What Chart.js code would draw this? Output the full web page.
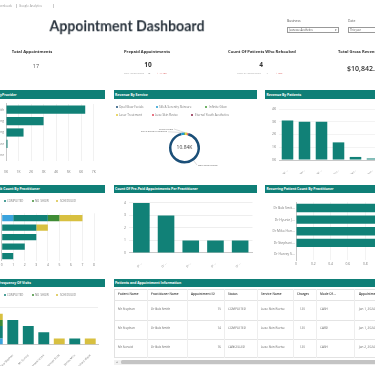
<!DOCTYPE html>
<html><head><meta charset="utf-8">
<script src="https://cdn.jsdelivr.net/npm/chart.js@4.4.1/dist/chart.umd.min.js"></script>
<style>
html,body{margin:0;padding:0;width:375px;height:366px;overflow:hidden;background:#fff;font-family:'Open Sans','Noto Sans',sans-serif;position:relative;}
.t{position:absolute;white-space:nowrap;line-height:1;color:#444;will-change:transform;}
.hdr{position:absolute;height:8.5px;background:#0f7f77;color:#fff;font-weight:700;font-size:3.4px;overflow:hidden;}
.hdr span{position:absolute;top:50%;transform:translateY(-50%);white-space:nowrap;line-height:1;}
.box{position:absolute;}
canvas{position:absolute;}
</style></head><body>
<script>
// ---------- DATA ----------
const providerNames = ["Dr Bob Smith","Dr Hyunie Jung","Dr Miko Hong","Dr Stephanie Lee","Dr Harvey Stone"];
const providerRevenue = [6322, 3000, 1400, 120, 0];
const providerTicks = [0,1000,2000,3000,4000,5000,6000,7000];

const services = ["Opal Glow Facials","Silk & Serenity Skincare","Infinite Glow","Laser Treatment","Luxe Skin Revive","Eternal Youth Aesthetics"];
const serviceRevenue = [10002, 360, 120, 240, 120, 0];
const serviceColors = ["#1b4f78","#1f9bd1","#3f9a35","#e2cb3c","#e0475b","#8a1f45"];

const patientsRev = ["Mr Stephan","Mary Stephan","Mr Sonoid","Annabelle Lee","Hannah Scott","James Mills"];
const patientRevenue = [3100, 3000, 3000, 1382, 240, 120];

const practitioners = ["Dr Bob Smith","Dr Hyunie Jung","Dr Miko Hong","Dr Stephanie Lee","Dr Harvey Stone"];
const statuses = ["CANCELLED","COMPLETED","NO_SHOW","SCHEDULED"];
const statusColors = ["#3aa3dd","#118177","#3f8c35","#d8c040"];
const cancelledByPract = [1,0,0,0,0];
const completedByPract = [3,3,3,2,1];
const noShowByPract    = [1,0,0,0,0];
const scheduledByPract = [2,1,0,0,0];

const prepaidByPract = [4,3,1,1,1];
const recurringByPract = [1,1,1,1,0];

const visitPatients = ["Mr Stephan","Mary Stephan","Mr Sonoid","Annabelle Lee","Hannah Scott","James Mills","Richard Wade"];
const cancelledVisits = [1,0,0,0,0,0,0];
const completedVisits = [2,4,3,2,0,1,0];
const noShowVisits    = [1,0,0,0,0,0,0];
const scheduledVisits = [1,0,0,0,1,0,1];

const tableCols = ["Patient Name","Practitioner Name","Appointment ID","Status","Service Name","Charges","Mode Of ...","Appointment Date"];
const tablePatients = ["Mr Stephan","Mr Stephan","Mr Sonoid"];
const tablePractitioners = ["Dr Bob Smith","Dr Bob Smith","Dr Bob Smith"];
const tableIds = [75,74,76];
const tableStatus = ["COMPLETED","COMPLETED","CANCELLED"];
const tableService = ["Luxe Skin Revive","Luxe Skin Revive","Luxe Skin Revive"];
const tableCharges = [120,120,120];
const tableMode = ["CASH","CARD","CASH"];
const tableDate = ["Jan 1, 2024","Jan 1, 2024","Jan 2, 2024"];

// ---------- HELPERS ----------
const TEAL = "#118177";
function T(txt,x,y,size,o={}){
  const d=document.createElement('div');d.className='t';d.textContent=txt;
  const a=o.a||'l';
  d.style.left=x+'px';d.style.top=y+'px';d.style.fontSize=size+'px';
  d.style.transform=`translate(${a==='l'?0:a==='c'?-50:-100}%,-50%)`;
  if(o.c)d.style.color=o.c; if(o.w)d.style.fontWeight=o.w; if(o.f)d.style.fontFamily=o.f;
  document.body.appendChild(d);return d;
}
function B(x,y,w,h,css){const d=document.createElement('div');d.className='box';
  d.style.left=x+'px';d.style.top=y+'px';d.style.width=w+'px';d.style.height=h+'px';
  Object.assign(d.style,css||{});document.body.appendChild(d);return d;}
function H(x,y,w,hidden,visible,tx){
  const d=B(x,y,w,8.5);d.className='hdr';
  if(hidden){const s=document.createElement('span');s.textContent=hidden;s.style.right=(w-tx)+'px';d.appendChild(s);}
  const v=document.createElement('span');v.textContent=visible;v.style.left=tx+'px';d.appendChild(v);
}
function mk(x,y,w,h){const c=document.createElement('canvas');c.width=w;c.height=h;
  c.style.left=x+'px';c.style.top=y+'px';c.style.width=w+'px';c.style.height=h+'px';
  document.body.appendChild(c);return c;}
function legend(items,colors,xs,y,size){
  items.forEach((s,i)=>{
    B(xs[i]-1.1,y-1.1,2.2,2.2,{background:colors[i],borderRadius:'50%'});
    T(s,xs[i]+2.2,y,size,{c:'#777'});
  });
}

// ---------- STATIC TEXT ----------
T("Downloads",12,5.7,3,{a:'r',c:'#999'});
B(15.5,3.5,0.4,4.5,{background:'#ccc'});
T("Google Analytics",19,5.7,3,{c:'#999'});
B(52.5,3.5,0.4,4.5,{background:'#ccc'});

const title=T("Appointment Dashboard",127,26,15.5,{a:'c',w:'700',c:'#28323c',f:"Lato,'Open Sans',sans-serif"});
{const w=title.getBoundingClientRect().width; title.style.transform=`translate(-50%,-50%) scaleX(${155/w})`;}

T("Business",287,21,3.3,{c:'#555'});
B(287,27.3,52,5.4,{border:'0.5px solid #999',boxSizing:'border-box'});
T("Jeunesse Aesthetics",289,30,2.6,{c:'#555'});
T("▾",336,30,3,{c:'#555',a:'c'});
T("Date",348,21,3.3,{c:'#555'});
B(348,27.3,32,5.4,{border:'0.5px solid #999',boxSizing:'border-box'});
T("This year",350,30,2.6,{c:'#555'});

T("Total Appointments",31.6,52.3,4.1,{a:'c',w:'700',c:'#333'});
T("17",36,67,5.5,{a:'c',c:'#555'});
T("Prepaid Appointments",147,52.3,4.1,{a:'c',w:'700',c:'#333'});
T("10",148,65,6.5,{a:'c',w:'700',c:'#333'});
T("Total Appointments",124,74,2.2,{c:'#aaa'});
T("17",149,74,2.2,{a:'c',c:'#555'});
T("↓ -41.18%",157,74,2.2,{c:'#d64545'});
T("Count Of Patients Who Rebooked",261.5,52.3,4.1,{a:'c',w:'700',c:'#333'});
T("4",261,65,6.5,{a:'c',w:'700',c:'#333'});
T("Count of Appointments",237,74,2.2,{c:'#aaa'});
T("4",267,74,2.2,{a:'c',c:'#555'});
T("↓ -76%",276,74,2.2,{c:'#d64545'});
T("Total Gross Revenue",338,52.3,4.1,{w:'700',c:'#333'});
T("$10,842.00",347,68,7,{w:'600',c:'#333'});

// headers
H(0,90.3,105,"Revenue By ","Provider",2);
H(113.7,90.3,143.3,"","Revenue By Service",1.3);
H(265,90.3,115,"","Revenue By Patients",1.5);
H(0,184.5,105,"Appointment Boo","k Count By Practitioner",0.3);
H(113.7,184.5,143.3,"","Count Of Pre-Paid Appointments Per Practitioner",1.3);
H(265,184.5,115,"","Recurring Patient Count By Practitioner",1.5);
H(0,278.5,105,"Patient F","requency Of Visits",0.3);
H(113.7,278.5,265,"","Patients and Appointment Information",1.3);

// doughnut legend
legend(services.slice(0,3),serviceColors.slice(0,3),[116.7,156.7,206.3],107,3);
legend(services.slice(3),serviceColors.slice(3),[116.7,153,192.3],115,3);
// status legends
legend(statuses,statusColors,[-23,4.7,32.7,57.3],201,2.8);
legend(statuses,statusColors,[-23,4.7,32.7,57.3],294.7,2.8);

// ---------- TABLE ----------
const colX=[114,146.7,186.7,224,256.7,292.7,316,354.3,400];
const rowY=[289,300.3,319.7,339,358];
B(114,289,270,69,{border:'0.5px solid #e2e2e2',boxSizing:'border-box'});
rowY.slice(1,4).forEach(y=>B(114,y,270,0.5,{background:'#e4e4e4'}));
colX.slice(1,8).forEach(x=>B(x,289,0.5,69,{background:'#eeeeee'}));
tableCols.forEach((c,i)=>T(c,colX[i]+4.3,295.3,3.1,{c:'#333',w:'600'}));
const rowC=[309.6,329,348.3];
for(let r=0;r<3;r++){
  const y=rowC[r], o={c:'#666'};
  T(tablePatients[r],colX[0]+4.3,y,3.1,o);
  T(tablePractitioners[r],colX[1]+4.3,y,3.1,o);
  T(String(tableIds[r]),221,y,3.1,{c:'#666',a:'r'});
  T(tableStatus[r],colX[3]+4.3,y,3.1,o);
  T(tableService[r],colX[4]+4.3,y,3.1,o);
  T(String(tableCharges[r]),305,y,3.1,{c:'#666',a:'r'});
  T(tableMode[r],colX[6]+4.3,y,3.1,o);
  T(tableDate[r],colX[7]+4.3,y,3.1,o);
}
B(114,359.5,270,5,{background:'#f1f1f1'});
B(121,360.3,260,3.4,{background:'#c4c4c4',borderRadius:'1.5px'});
T("◂",116.5,362,3,{a:'c',c:'#888'});

// ---------- CHARTS ----------
Chart.defaults.font.family="'Open Sans','Noto Sans',sans-serif";
Chart.defaults.font.size=3.3;
Chart.defaults.color='#777';
Chart.defaults.animation=false;
Chart.defaults.responsive=false;
Chart.defaults.maintainAspectRatio=false;
Chart.defaults.plugins.legend.display=false;
Chart.defaults.plugins.tooltip.enabled=false;
const short=(s,n)=>s.length>n? s.slice(0,n)+'...' : s;
const kfmt=v=>(v/1000)+'K';

// A: provider
new Chart(mk(-40,100,145,78),{type:'bar',
  data:{labels:providerNames,datasets:[{data:providerRevenue,backgroundColor:TEAL,categoryPercentage:0.8,barPercentage:0.9}]},
  options:{indexAxis:'y',layout:{padding:{top:2,right:5,left:0,bottom:0}},
    scales:{
      x:{min:0,max:7500,afterBuildTicks:s=>{s.ticks=providerTicks.map(v=>({value:v}));},
         ticks:{autoSkip:false,callback:kfmt,padding:9,maxRotation:0},grid:{color:'#f1f1f1',drawTicks:false},border:{display:false},afterFit:s=>{s.height=17;}},
      y:{ticks:{padding:2,color:'#888',autoSkip:false},grid:{display:false,drawTicks:false},border:{color:'#c8c8c8'},afterFit:s=>{s.width=46;}}
    }}});

// B: doughnut
const donutLabels={id:'donutLabels',afterDraw(chart){
  const ctx=chart.ctx, meta=chart.getDatasetMeta(0), a0=meta.data[0];
  const cx=a0.x, cy=a0.y, R=a0.outerRadius;
  const total=serviceRevenue.reduce((p,c)=>p+c,0);
  ctx.save();
  ctx.fillStyle='#444';ctx.font="5px 'Open Sans'";ctx.textAlign='center';ctx.textBaseline='middle';
  ctx.fillText((total/1000).toFixed(2)+'K',cx,cy);
  const place=[
    {i:2,tx:cx-11.5,ty:cy-19,al:'right'},
    {i:1,tx:cx-17.5,ty:cy-16.3,al:'right'},
    {i:0,tx:cx+13.5,ty:cy+17,al:'left',ang:Math.PI*0.3}
  ];
  ctx.font="2.4px 'Open Sans'";ctx.fillStyle='#666';ctx.strokeStyle='#aaa';ctx.lineWidth=0.4;
  place.forEach(p=>{
    const el=meta.data[p.i];
    const m=p.ang!==undefined?p.ang:(el.startAngle+el.endAngle)/2;
    const ax=cx+R*Math.cos(m), ay=cy+R*Math.sin(m);
    const ex=p.al==='right'?p.tx+1:p.tx-1;
    ctx.beginPath();ctx.moveTo(ax,ay);ctx.lineTo(ex,p.ty);ctx.stroke();
    ctx.textAlign=p.al;ctx.fillText(services[p.i],p.tx,p.ty);
  });
  ctx.restore();
}};
new Chart(mk(114,118,143,58),{type:'doughnut',
  data:{labels:services,datasets:[{data:serviceRevenue,backgroundColor:serviceColors,borderWidth:0}]},
  options:{cutout:'84%',rotation:15,layout:{padding:{left:55,right:57,top:14.5,bottom:12.5}}},
  plugins:[donutLabels]});

// C: revenue by patients
new Chart(mk(260,104,125,70),{type:'bar',
  data:{labels:patientsRev,datasets:[{data:patientRevenue,backgroundColor:TEAL,categoryPercentage:0.8,barPercentage:0.85}]},
  options:{layout:{padding:{top:5,right:4}},
    scales:{
      x:{ticks:{maxRotation:45,minRotation:45,autoSkip:false,font:{size:2.6},padding:1,callback(v){return short(this.getLabelForValue(v),3);}},grid:{display:false},border:{color:'#c8c8c8'},afterFit:s=>{s.height=14;}},
      y:{min:0,max:4000,ticks:{stepSize:1000,autoSkip:false,callback:kfmt,padding:3},grid:{color:'#f3f3f3',drawTicks:false},border:{display:false},afterFit:s=>{s.width=19;}}
    }}});

// D: stacked horizontal by practitioner
new Chart(mk(-44,209,146,60),{type:'bar',
  data:{labels:practitioners,datasets:[cancelledByPract,completedByPract,noShowByPract,scheduledByPract].map((d,i)=>({label:statuses[i],data:d,backgroundColor:statusColors[i],categoryPercentage:0.8,barPercentage:0.83}))},
  options:{indexAxis:'y',layout:{padding:{top:4.3,right:8}},
    scales:{
      x:{stacked:true,min:0,max:8,ticks:{stepSize:1,autoSkip:false,padding:2,maxRotation:0},grid:{color:'#f1f1f1',drawTicks:false},border:{display:false},afterFit:s=>{s.height=8.2;}},
      y:{stacked:true,ticks:{padding:2,autoSkip:false},grid:{display:false,drawTicks:false},border:{color:'#c8c8c8'},afterFit:s=>{s.width=45.7;}}
    }}});

// E: pre-paid per practitioner
new Chart(mk(114,198,143,70),{type:'bar',
  data:{labels:practitioners,datasets:[{data:prepaidByPract,backgroundColor:TEAL,categoryPercentage:0.8,barPercentage:0.84}]},
  options:{layout:{padding:{top:4,right:4.5}},
    scales:{
      x:{ticks:{maxRotation:45,minRotation:45,autoSkip:false,font:{size:2.6},padding:1,callback(v){return short(this.getLabelForValue(v),3);}},grid:{display:false},border:{color:'#c8c8c8'},afterFit:s=>{s.height=15;}},
      y:{min:0,max:4,ticks:{stepSize:1,autoSkip:false,padding:3},grid:{color:'#eeeeee',drawTicks:false},border:{display:false},afterFit:s=>{s.width=15;}}
    }}});

// F: recurring patients
new Chart(mk(260,198,130,70),{type:'bar',
  data:{labels:practitioners,datasets:[{data:recurringByPract,backgroundColor:TEAL,categoryPercentage:0.8,barPercentage:0.9}]},
  options:{indexAxis:'y',layout:{padding:{top:4.2,right:7.5}},
    scales:{
      x:{min:0,max:1,ticks:{stepSize:0.2,autoSkip:false,padding:2,maxRotation:0},grid:{color:'#f3f3f3',drawTicks:false},border:{display:false},afterFit:s=>{s.height=7.7;}},
      y:{ticks:{padding:1.5,color:'#777',autoSkip:false,callback(v){return short(this.getLabelForValue(v),11);}},grid:{display:false,drawTicks:false},border:{color:'#c8c8c8'},afterFit:s=>{s.width=36;}}
    }}});

// G: frequency of visits
new Chart(mk(-30,300,130,66),{type:'bar',
  data:{labels:visitPatients,datasets:[cancelledVisits,completedVisits,noShowVisits,scheduledVisits].map((d,i)=>({label:statuses[i],data:d,backgroundColor:statusColors[i],categoryPercentage:0.8,barPercentage:0.88}))},
  options:{layout:{padding:{top:7.5,right:2}},
    scales:{
      x:{stacked:true,ticks:{maxRotation:45,minRotation:45,autoSkip:false,font:{size:2.8},padding:1},grid:{display:false},border:{color:'#c8c8c8'},afterFit:s=>{s.height=21.3;}},
      y:{stacked:true,min:0,max:6,ticks:{stepSize:6,padding:3},grid:{color:'#eeeeee',drawTicks:false},border:{display:false},afterFit:s=>{s.width=19.55;}}
    }}});
</script>
</body></html>
